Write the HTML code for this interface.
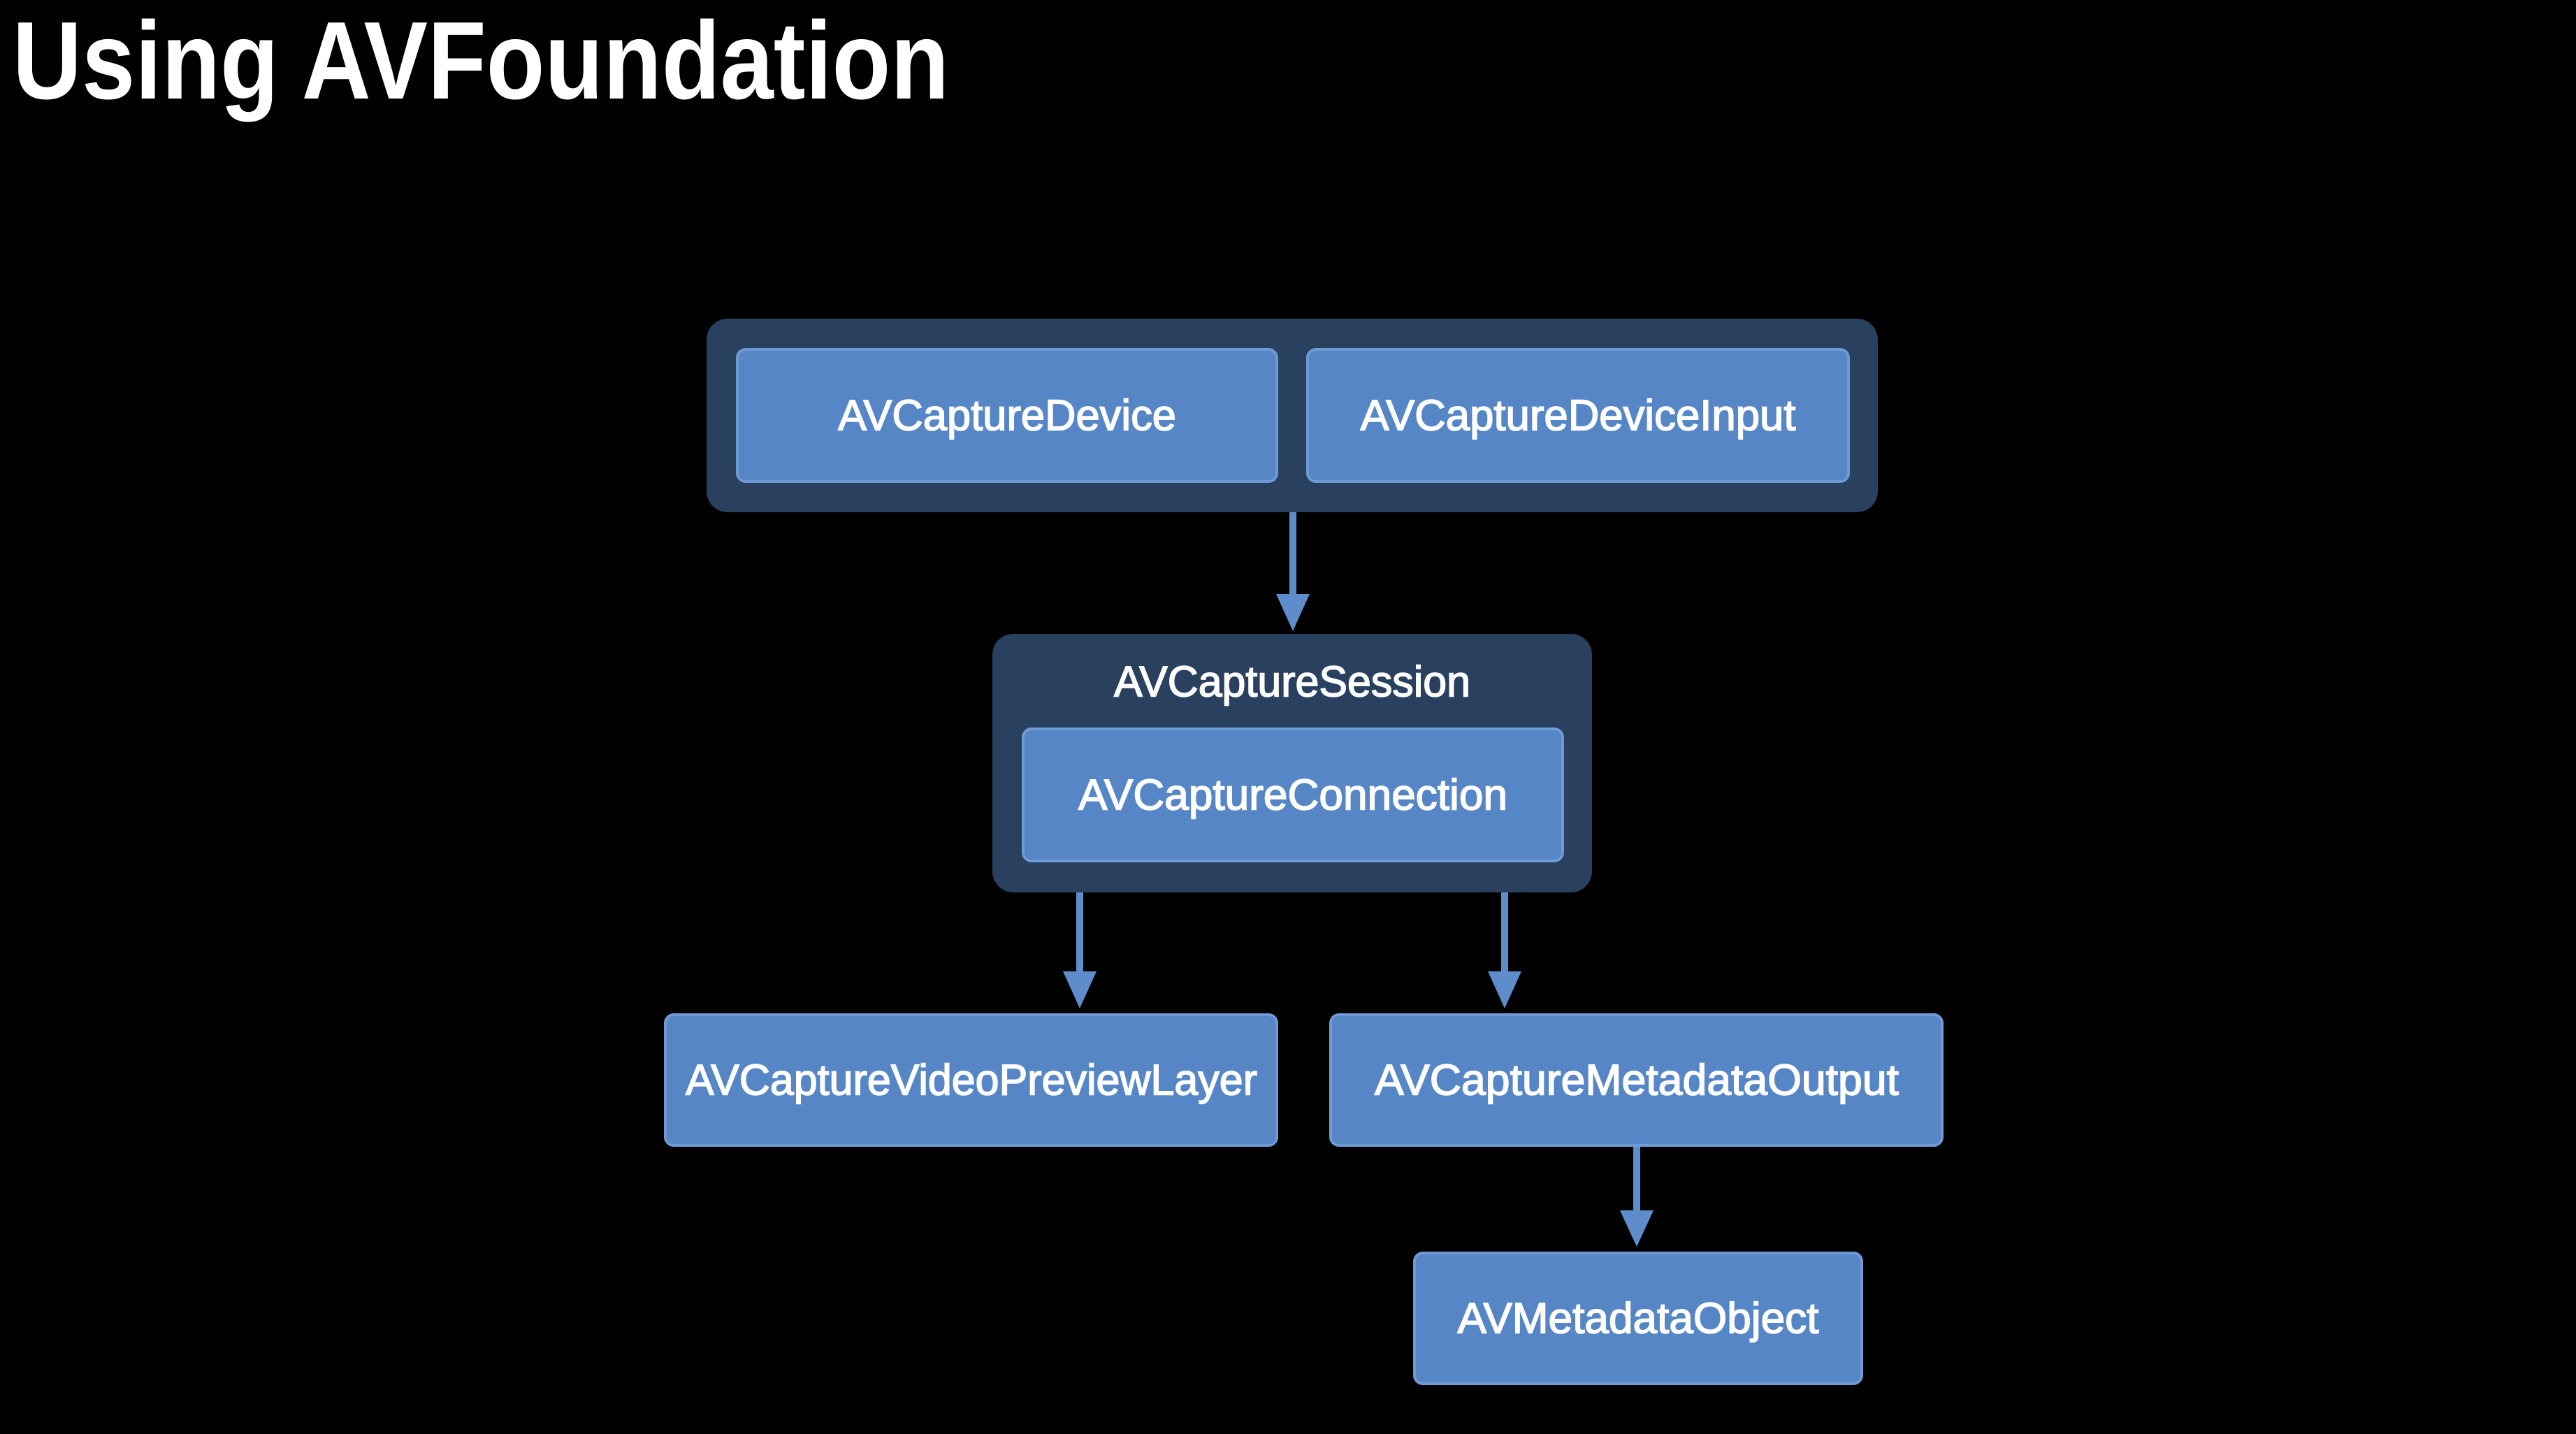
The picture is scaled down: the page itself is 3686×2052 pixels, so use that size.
<!DOCTYPE html>
<html><head><style>
html,body{margin:0;padding:0;background:#000;}
svg{display:block;}
</style></head><body>
<svg width="3686" height="2052" viewBox="0 0 3686 2052" xmlns="http://www.w3.org/2000/svg">
<rect width="3686" height="2052" fill="#000"/>
<text x="18" y="141" font-family="Liberation Sans, sans-serif" font-weight="bold" font-size="158" fill="#fff" textLength="1340" lengthAdjust="spacingAndGlyphs">Using AVFoundation</text>
<rect x="1011" y="456" width="1676" height="277" rx="30" fill="#29405f"/>
<rect x="1420" y="907" width="858" height="370" rx="30" fill="#29405f"/>
<g fill="#5f8dcc" stroke="none">
<rect x="1845" y="733" width="10" height="120"/>
<polygon points="1826,850 1874,850 1850,903"/>
<rect x="1540" y="1277" width="10" height="115"/>
<polygon points="1521,1390 1569,1390 1545,1443"/>
<rect x="2148" y="1277" width="10" height="115"/>
<polygon points="2129,1390 2177,1390 2153,1443"/>
<rect x="2337" y="1639" width="10" height="95"/>
<polygon points="2318,1732 2366,1732 2342,1784"/>
</g>
<g fill="#5686c6" stroke="#6e9bd4" stroke-width="4">
<rect x="1055" y="500" width="772" height="189" rx="12"/>
<rect x="1871" y="500" width="774" height="189" rx="12"/>
<rect x="1464" y="1043" width="772" height="189" rx="12"/>
<rect x="952" y="1452" width="875" height="187" rx="12"/>
<rect x="1904" y="1452" width="875" height="187" rx="12"/>
<rect x="2024" y="1793" width="640" height="187" rx="12"/>
</g>
<g font-family="Liberation Sans, sans-serif" font-size="62" fill="#fff" stroke="#fff" stroke-width="1.6" text-anchor="middle" dominant-baseline="central">
<text x="1441" y="595" textLength="484" lengthAdjust="spacingAndGlyphs">AVCaptureDevice</text>
<text x="2258" y="595" textLength="623" lengthAdjust="spacingAndGlyphs">AVCaptureDeviceInput</text>
<text x="1849" y="976" textLength="510" lengthAdjust="spacingAndGlyphs">AVCaptureSession</text>
<text x="1850" y="1138" textLength="614" lengthAdjust="spacingAndGlyphs">AVCaptureConnection</text>
<text x="1390" y="1546" textLength="818" lengthAdjust="spacingAndGlyphs">AVCaptureVideoPreviewLayer</text>
<text x="2342" y="1546" textLength="750" lengthAdjust="spacingAndGlyphs">AVCaptureMetadataOutput</text>
<text x="2344" y="1887" textLength="517" lengthAdjust="spacingAndGlyphs">AVMetadataObject</text>
</g>
</svg>
</body></html>
